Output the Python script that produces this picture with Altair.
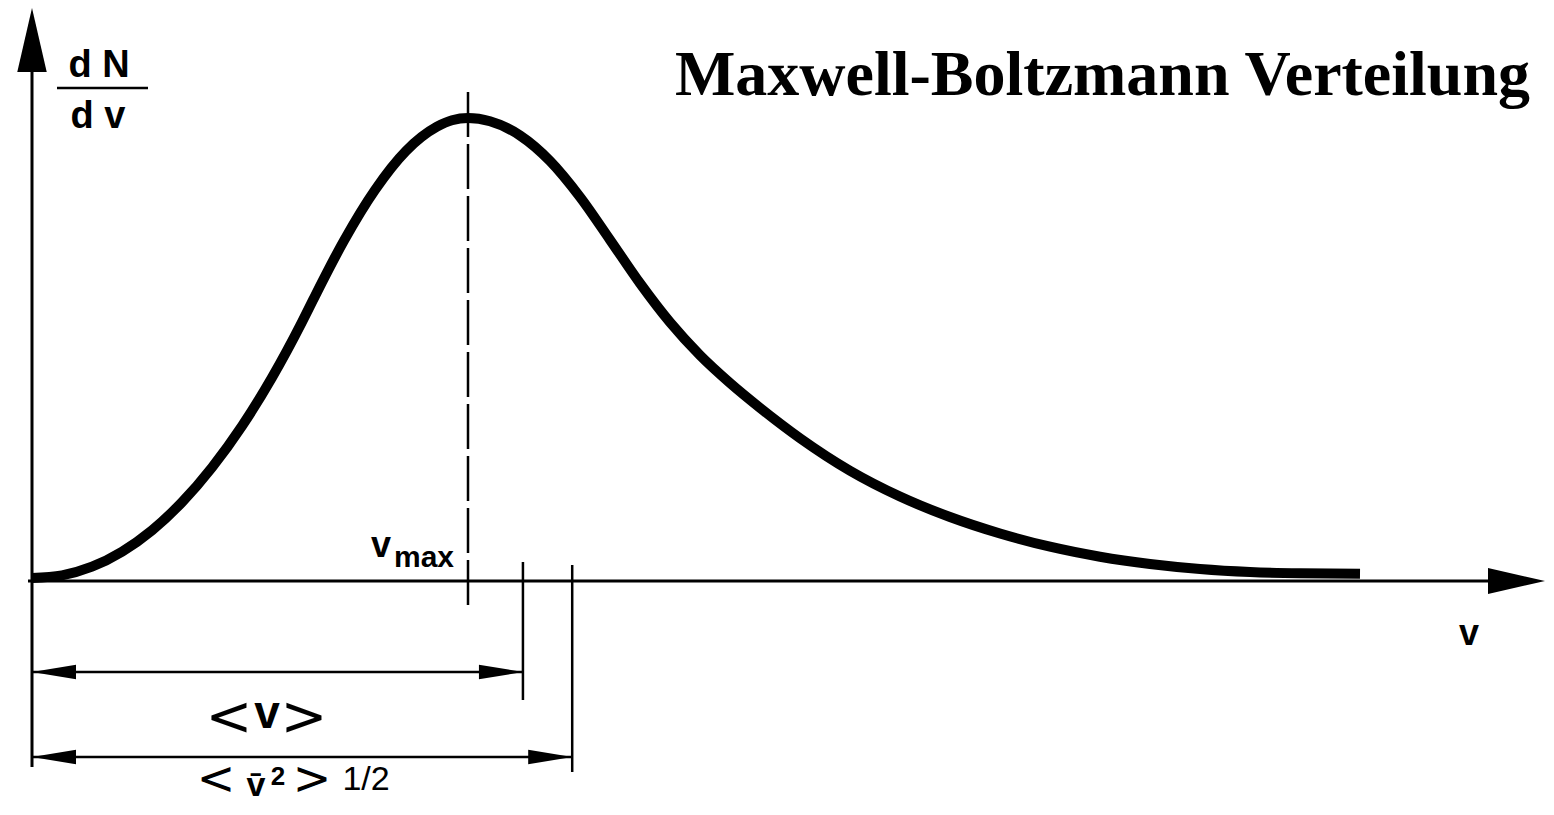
import altair as alt
import pandas as pd

# ---------------- data ----------------
# v in units of v_max, f = (dN/dv) relative to its peak value
curve_v = [0.0000, 0.0688, 0.1376, 0.2064, 0.2752, 0.3440, 0.4128, 0.4817, 0.5505,
           0.6193, 0.6445, 0.7156, 0.7867, 0.8578, 0.9289, 0.9633, 1.0000, 1.0505,
           1.1193, 1.1881, 1.2569, 1.3257, 1.3945, 1.4633, 1.5321, 1.6009, 1.6697,
           1.7615, 1.8761, 1.9908, 2.1055, 2.2202, 2.3349, 2.4495, 2.5642, 2.6789,
           2.7936, 2.9083, 3.0459]
curve_f = [0.0065, 0.0123, 0.0309, 0.0633, 0.1095, 0.1700, 0.2451, 0.3348, 0.4395,
           0.5594, 0.6069, 0.7352, 0.8445, 0.9287, 0.9812, 0.9952, 1.0000, 0.9929,
           0.9622, 0.9071, 0.8294, 0.7369, 0.6430, 0.5587, 0.4875, 0.4276, 0.3740,
           0.3084, 0.2382, 0.1825, 0.1382, 0.1026, 0.0740, 0.0524, 0.0367, 0.0259,
           0.0194, 0.0165, 0.0154]

speed_names = ["v_max", "mean", "rms"]
speed_values = [1.000, 1.126, 1.239]

title_text = "Maxwell-Boltzmann Verteilung"

# ---------------- layout ----------------
W, H = 1538, 799           # whole chart (padding 0, autosize none)
M = 8                      # page margin
X0, PXV = 32, 436          # page x of v=0, pixels per unit v
Y0, PXF = 581, 463         # page y of f=0, pixels per unit f


def v_at(xp):
    return (xp - X0) / PXV


def f_at(yp):
    return (Y0 - yp) / PXF


xs = alt.Scale(domain=[v_at(M), v_at(M + W)], nice=False, zero=False)
ys = alt.Scale(domain=[f_at(M + H), f_at(M)], nice=False, zero=False)
BLACK = "#000000"

curve_df = pd.DataFrame({"v": curve_v, "f": curve_f})
curve = alt.Chart(curve_df).mark_line(
    color=BLACK, strokeWidth=10, interpolate="monotone", strokeCap="butt"
).encode(
    x=alt.X("v:Q", scale=xs, axis=None),
    y=alt.Y("f:Q", scale=ys, axis=None),
)

v_max, v_mean, v_rms = speed_values


def rule_layer(rows, width, dash=None):
    df = pd.DataFrame(rows, columns=["x", "x2", "y", "y2"])
    kw = dict(color=BLACK, strokeWidth=width, strokeCap="butt")
    if dash:
        kw["strokeDash"] = dash
    return alt.Chart(df).mark_rule(**kw).encode(
        x=alt.X("x:Q", scale=xs, axis=None),
        x2="x2:Q",
        y=alt.Y("y:Q", scale=ys, axis=None),
        y2="y2:Q",
    )


axes = rule_layer([
    [v_at(28), v_at(1505), 0.0, 0.0],          # v axis
    [0.0, 0.0, f_at(767), f_at(50)],            # dN/dv axis (extends down)
], 3)

dashed = rule_layer([[v_max, v_max, f_at(605), f_at(90)]], 2.5, dash=[45, 7])

ticks = rule_layer([
    [v_mean, v_mean, f_at(700), f_at(562)],
    [v_rms, v_rms, f_at(772), f_at(565)],
], 2.5)

dims = rule_layer([
    [0.0, v_mean, f_at(672), f_at(672)],
    [0.0, v_rms, f_at(757), f_at(757)],
], 2.5)


def heads(rows, path):
    df = pd.DataFrame(rows, columns=["x", "y", "a", "s"])
    return alt.Chart(df).mark_point(
        shape=path, filled=True, opacity=1, strokeWidth=0, color=BLACK
    ).encode(
        x=alt.X("x:Q", scale=xs, axis=None),
        y=alt.Y("y:Q", scale=ys, axis=None),
        angle=alt.Angle("a:Q", scale=None),
        size=alt.Size("s:Q", scale=None),
    )


big_heads = heads([
    [v_at(1545), 0.0, 0, 57 ** 2],
    [0.0, f_at(8), 270, 64 ** 2],
], "M0,0L-2,-0.46L-2,0.46Z")

small_heads = heads([
    [0.0, f_at(672), 180, 44 ** 2],
    [v_mean, f_at(672), 0, 44 ** 2],
    [0.0, f_at(757), 180, 44 ** 2],
    [v_rms, f_at(757), 0, 44 ** 2],
], "M0,0L-2,-0.33L-2,0.33Z")


def lbl(text, xp, yp, size, weight="bold", font="Liberation Sans",
        align="center", baseline="alphabetic"):
    return alt.Chart(pd.DataFrame({"t": [text]})).mark_text(
        font=font, fontSize=size, fontWeight=weight, color=BLACK,
        align=align, baseline=baseline,
    ).encode(
        x=alt.value(xp - M), y=alt.value(yp - M), text="t:N"
    )


frac_line = alt.Chart(pd.DataFrame({"a": [0]})).mark_rule(
    color=BLACK, strokeWidth=2.5
).encode(x=alt.value(57 - M), x2=alt.value(148 - M), y=alt.value(88 - M))

labels = [
    lbl("d N", 99, 77, 38),
    lbl("d v", 98, 128, 38),
    frac_line,
    lbl("v", 381, 557, 36),
    lbl("max", 424, 567, 30),
    lbl("v", 1469, 645, 36),
    # <v>
    lbl("<", 229, 735, 56, weight="normal", font="DejaVu Sans"),
    lbl("v", 267, 728, 46),
    lbl(">", 304, 735, 56, weight="normal", font="DejaVu Sans"),
    # <v^2>^1/2
    lbl("<", 216, 794, 46, weight="normal", font="DejaVu Sans"),
    lbl("v\u0304", 256, 796, 34),
    lbl("2", 278, 785, 26),
    lbl(">", 312, 794, 46, weight="normal", font="DejaVu Sans"),
    lbl("1/2", 366, 790, 34, weight="normal"),
    # title
    lbl(title_text, 1530, 95, 64, font="Liberation Serif", align="right"),
]

chart = alt.layer(
    dashed, axes, ticks, dims, curve, big_heads, small_heads, *labels
).properties(
    width=W, height=H, padding=0, autosize=alt.AutoSizeParams(type="none"),
).configure(background="white").configure_view(stroke=None)

chart.save("out.html", embed_options={"renderer": "svg", "actions": False})
